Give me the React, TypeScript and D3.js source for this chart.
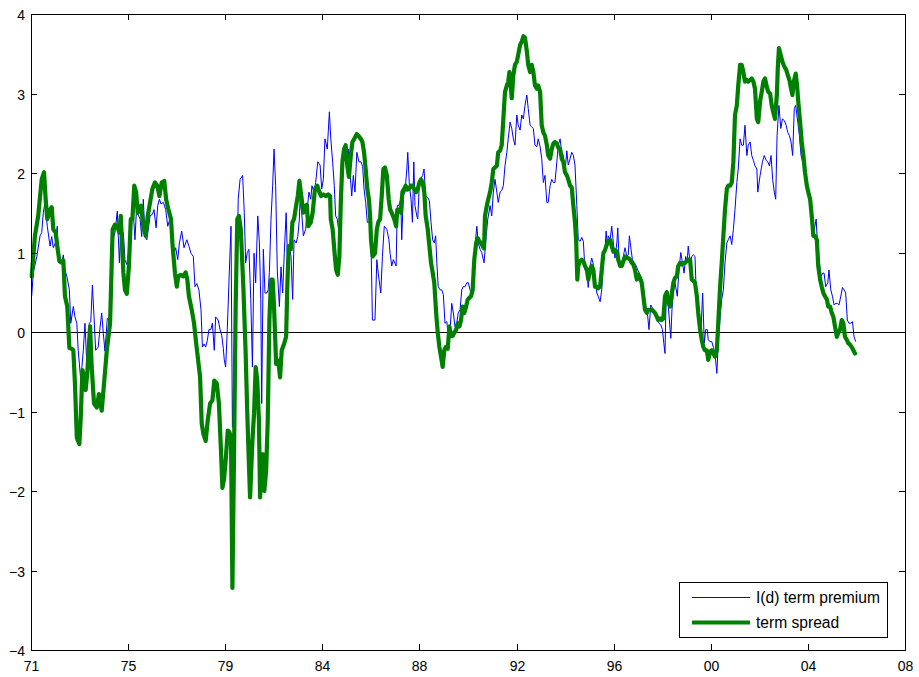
import React from 'react';
import * as d3 from 'd3';

type Pt = [number, number];

const xTickLabels = ['71', '75', '79', '84', '88', '92', '96', '00', '04', '08'];
const yTickValues = [-4, -3, -2, -1, 0, 1, 2, 3, 4];
const xDomain: [number, number] = [1971.6, 2009.18];
const yDomain: [number, number] = [-4, 4];
const legendLabels = ['I(d) term premium', 'term spread'];

// I(d) term premium (date in decimal years, value)
const termPremium: Pt[] = [
[1971.63,0.45],[1971.70,0.75],[1971.85,0.95],[1971.99,1.21],[1972.06,1.25],[1972.13,1.50],[1972.20,1.63],[1972.30,1.33],[1972.42,1.08],[1972.49,1.20],[1972.56,1.06],[1972.65,1.12],[1972.73,1.33],[1972.77,0.91],[1972.92,0.87],[1972.99,0.97],[1973.06,0.78],[1973.14,0.70],[1973.25,0.53],[1973.31,0.11],[1973.42,0.32],[1973.49,0.19],[1973.57,0.11],[1973.63,-0.23],[1973.74,-0.61],[1973.85,-0.23],[1973.92,0.11],[1974.00,-0.40],[1974.11,0.11],[1974.17,0.13],[1974.24,0.59],[1974.31,0.19],[1974.38,-0.23],[1974.49,-0.19],[1974.57,0.06],[1974.64,0.24],[1974.71,-0.02],[1974.78,-0.24],[1974.88,0.17],[1974.97,0.15],
[1975.07,1.12],[1975.21,1.25],[1975.31,1.52],[1975.40,0.87],[1975.46,1.29],[1975.57,1.25],[1975.64,0.91],[1975.72,0.85],[1975.81,1.04],[1975.90,1.42],[1976.00,1.50],[1976.07,1.16],[1976.15,1.63],[1976.21,1.48],[1976.29,1.42],[1976.36,1.20],[1976.43,1.67],[1976.50,1.20],[1976.58,1.16],[1976.72,1.46],[1976.82,1.48],[1976.89,1.54],[1976.98,1.31],[1977.05,1.59],[1977.12,1.67],[1977.19,1.61],[1977.29,1.63],[1977.39,1.54],[1977.48,1.33],[1977.58,1.43],[1977.65,1.33],[1977.75,0.99],[1977.82,1.06],[1977.91,0.91],[1977.98,1.12],[1978.08,1.27],[1978.18,1.06],[1978.30,1.16],[1978.39,1.08],[1978.48,0.99],[1978.58,0.95],[1978.65,0.57],[1978.73,0.61],[1978.82,0.53],[1978.91,0.28],[1978.97,-0.19],
[1979.04,-0.15],[1979.11,-0.19],[1979.18,-0.11],[1979.25,0.03],[1979.33,0.03],[1979.40,0.11],[1979.48,-0.23],[1979.54,0.19],[1979.65,0.15],[1979.73,0.03],[1979.80,-0.04],[1979.87,-0.21],[1979.91,-0.35],[1979.97,-0.44],[1980.04,0.03],[1980.13,0.78],[1980.20,1.33],[1980.26,-1.20],[1980.37,0.00],[1980.47,0.99],[1980.51,1.67],[1980.59,1.92],[1980.70,1.97],[1980.77,1.50],[1980.83,0.87],[1980.90,1.00],[1980.97,1.04],[1981.05,0.41],[1981.12,-0.44],[1981.19,0.99],[1981.26,0.62],[1981.35,1.46],[1981.42,1.12],[1981.48,0.41],[1981.52,-0.90],[1981.59,1.04],[1981.66,0.49],[1981.74,0.49],[1981.80,0.53],[1981.85,0.75],[1981.92,1.42],[1981.99,1.84],[1982.05,2.30],[1982.12,1.84],[1982.19,0.78],[1982.28,0.32],[1982.35,0.82],[1982.42,0.49],[1982.49,0.99],[1982.57,1.50],[1982.62,1.00],[1982.71,1.08],[1982.78,0.95],[1982.85,0.41],[1982.91,1.16],[1983.00,1.12],[1983.07,1.20],[1983.14,1.42],[1983.17,1.67],[1983.24,1.50],[1983.31,1.21],[1983.41,1.29],[1983.48,1.55],[1983.55,1.76],[1983.63,1.67],[1983.68,1.84],[1983.77,1.76],[1983.84,1.88],[1983.93,2.14],
[1984.03,2.10],[1984.10,1.80],[1984.17,1.92],[1984.24,2.43],[1984.34,2.30],[1984.43,2.77],[1984.49,2.43],[1984.57,2.14],[1984.64,1.84],[1984.70,1.46],[1984.77,1.42],[1984.84,1.25],[1984.89,1.42],[1984.96,2.14],[1985.03,2.18],[1985.10,2.30],[1985.18,2.22],[1985.24,2.30],[1985.32,2.01],[1985.39,1.71],[1985.46,1.97],[1985.53,1.76],[1985.61,2.26],[1985.70,2.14],[1985.79,2.14],[1985.86,2.08],[1985.92,1.80],[1985.99,1.63],[1986.06,1.38],[1986.15,1.38],[1986.21,1.29],[1986.28,0.15],[1986.39,0.15],[1986.47,0.91],[1986.53,0.74],[1986.64,0.49],[1986.71,0.95],[1986.79,1.33],[1986.90,1.29],[1986.99,1.16],[1987.04,0.99],[1987.11,0.83],[1987.18,0.91],[1987.30,0.83],[1987.35,1.59],[1987.42,1.59],[1987.50,1.67],[1987.54,1.16],[1987.61,1.72],[1987.68,1.76],[1987.76,2.05],[1987.80,2.26],[1987.87,1.84],[1987.94,1.67],
[1988.00,1.38],[1988.06,2.14],[1988.11,1.59],[1988.19,1.46],[1988.23,1.42],[1988.30,1.88],[1988.37,1.93],[1988.44,1.97],[1988.50,2.05],[1988.57,1.71],[1988.66,1.69],[1988.73,1.65],[1988.80,1.38],[1988.87,1.16],[1988.94,1.12],[1989.00,1.21],[1989.05,0.87],[1989.11,0.57],[1989.19,0.53],[1989.26,0.53],[1989.33,0.47],[1989.40,0.11],[1989.48,0.13],[1989.54,-0.06],[1989.62,0.02],[1989.69,0.36],[1989.76,0.24],[1989.83,0.07],[1989.91,0.11],[1989.97,0.24],[1990.05,0.28],[1990.12,0.53],[1990.19,0.57],[1990.26,0.57],[1990.34,0.62],[1990.40,0.62],[1990.48,0.53],[1990.55,0.45],[1990.62,0.83],[1990.69,1.08],[1990.77,1.33],[1990.83,1.12],[1990.91,1.04],[1990.98,1.00],[1991.08,0.87],[1991.17,1.20],[1991.24,1.42],[1991.34,1.59],[1991.41,1.46],[1991.48,1.76],[1991.55,1.92],[1991.63,1.76],[1991.69,1.63],[1991.77,1.76],[1991.84,1.78],[1991.91,1.84],[1991.98,2.09],
[1992.06,2.26],[1992.12,2.43],[1992.20,2.64],[1992.27,2.56],[1992.34,2.43],[1992.41,2.35],[1992.49,2.73],[1992.55,2.60],[1992.63,2.54],[1992.70,2.73],[1992.77,2.68],[1992.84,2.85],[1992.92,2.98],[1992.98,2.81],[1993.06,2.60],[1993.13,2.58],[1993.20,2.56],[1993.27,2.35],[1993.35,2.33],[1993.41,2.43],[1993.49,2.33],[1993.56,2.18],[1993.63,1.88],[1993.70,1.97],[1993.78,1.63],[1993.84,1.63],[1993.92,1.84],[1993.99,1.92],[1994.06,1.88],[1994.13,1.88],[1994.21,2.14],[1994.27,2.35],[1994.35,2.43],[1994.42,2.26],[1994.49,2.22],[1994.56,2.01],[1994.64,2.28],[1994.70,2.10],[1994.78,2.18],[1994.85,2.26],[1994.92,2.22],[1994.99,2.10],[1995.07,1.59],[1995.13,1.16],[1995.21,1.14],[1995.28,1.19],[1995.35,1.14],[1995.42,0.78],[1995.50,0.74],[1995.56,0.56],[1995.64,0.83],[1995.71,0.93],[1995.78,0.85],[1995.85,0.64],[1995.93,0.49],[1995.99,0.45],
[1996.07,0.38],[1996.14,0.53],[1996.21,0.87],[1996.28,1.04],[1996.33,1.27],[1996.38,1.08],[1996.42,1.21],[1996.50,1.16],[1996.57,1.33],[1996.64,1.12],[1996.71,0.93],[1996.79,1.12],[1996.83,1.31],[1996.88,0.95],[1996.96,0.83],[1997.03,0.87],[1997.10,1.00],[1997.14,1.06],[1997.22,0.95],[1997.28,0.97],[1997.33,1.21],[1997.40,1.04],[1997.46,0.91],[1997.54,0.87],[1997.62,0.83],[1997.69,0.78],[1997.76,0.74],[1997.83,0.66],[1997.90,0.53],[1997.97,0.41],[1998.05,0.30],[1998.12,0.19],[1998.17,0.03],[1998.25,0.34],[1998.32,0.30],[1998.39,0.28],[1998.46,0.24],[1998.53,0.19],[1998.60,0.11],[1998.68,0.09],[1998.75,0.03],[1998.81,-0.14],[1998.86,-0.27],[1998.91,0.45],[1998.98,0.40],[1999.05,0.15],[1999.11,-0.08],[1999.16,0.28],[1999.22,0.50],[1999.29,0.62],[1999.39,0.45],[1999.46,0.78],[1999.54,1.00],[1999.61,0.87],[1999.68,0.74],[1999.75,0.95],[1999.81,0.87],[1999.86,1.08],[1999.94,0.87],
[2000.01,0.95],[2000.08,0.97],[2000.15,0.95],[2000.20,0.53],[2000.27,0.28],[2000.34,0.19],[2000.41,0.03],[2000.48,0.49],[2000.55,-0.14],[2000.61,0.03],[2000.68,0.03],[2000.72,-0.10],[2000.80,-0.12],[2000.87,-0.12],[2000.94,-0.19],[2001.01,-0.27],[2001.09,-0.52],[2001.15,-0.14],[2001.23,0.19],[2001.30,0.41],[2001.37,0.53],[2001.44,0.87],[2001.52,1.12],[2001.58,1.16],[2001.66,1.21],[2001.73,1.10],[2001.80,1.29],[2001.87,1.54],[2001.95,1.88],[2002.01,2.05],[2002.09,2.43],[2002.16,2.35],[2002.23,2.35],[2002.30,2.60],[2002.38,2.22],[2002.44,2.35],[2002.52,2.39],[2002.59,2.22],[2002.66,2.16],[2002.73,2.09],[2002.81,2.05],[2002.85,1.76],[2002.95,1.97],[2003.05,2.14],[2003.13,2.22],[2003.21,2.16],[2003.28,2.14],[2003.35,2.09],[2003.42,2.22],[2003.49,1.92],[2003.56,1.76],[2003.62,1.67],[2003.68,2.47],[2003.76,2.85],[2003.84,2.56],[2003.91,2.68],[2003.99,2.66],
[2004.07,2.60],[2004.14,2.51],[2004.21,2.47],[2004.28,2.39],[2004.35,2.22],[2004.42,2.81],[2004.48,2.85],[2004.57,2.64],[2004.64,2.47],[2004.71,2.22],[2004.78,2.14],[2004.85,2.05],[2004.93,1.84],[2005.00,1.76],[2005.07,1.71],[2005.14,1.54],[2005.21,1.33],[2005.28,1.29],[2005.36,1.42],[2005.43,1.04],[2005.50,0.87],[2005.57,0.70],[2005.64,0.74],[2005.70,0.74],[2005.77,0.57],[2005.86,0.62],[2005.91,0.78],[2005.99,0.53],[2006.06,0.45],[2006.13,0.34],[2006.20,0.36],[2006.27,0.36],[2006.34,0.34],[2006.42,0.45],[2006.49,0.56],[2006.56,0.53],[2006.63,0.49],[2006.70,0.15],[2006.77,0.11],[2006.85,0.11],[2006.92,0.13],[2006.99,-0.06],[2007.06,-0.12]
];

// term spread (date in decimal years, value)
const termSpread: Pt[] = [
[1971.63,0.70],[1971.77,1.21],[1971.91,1.46],[1972.06,1.92],[1972.16,2.01],[1972.23,1.67],[1972.30,1.42],[1972.42,1.54],[1972.49,1.57],[1972.56,1.29],[1972.66,1.25],[1972.73,1.08],[1972.82,0.89],[1972.92,0.87],[1972.99,0.90],[1973.06,0.45],[1973.16,0.32],[1973.25,-0.20],[1973.35,-0.21],[1973.42,-0.23],[1973.49,-0.65],[1973.57,-1.33],[1973.68,-1.41],[1973.74,-1.07],[1973.81,-0.48],[1973.88,-0.55],[1973.95,-0.73],[1974.02,-0.52],[1974.14,0.07],[1974.21,-0.44],[1974.31,-0.90],[1974.43,-0.95],[1974.52,-0.78],[1974.64,-0.99],[1974.74,-0.65],[1974.86,-0.23],[1975.00,0.11],[1975.11,1.29],[1975.21,1.35],[1975.31,1.33],[1975.40,1.25],[1975.46,1.46],[1975.57,0.75],[1975.64,0.53],[1975.72,0.48],[1975.81,0.83],[1975.89,1.42],[1975.96,1.42],
[1976.04,1.84],[1976.12,1.76],[1976.19,1.50],[1976.26,1.55],[1976.33,1.59],[1976.43,1.33],[1976.53,1.21],[1976.62,1.46],[1976.72,1.63],[1976.82,1.80],[1976.93,1.88],[1977.03,1.84],[1977.12,1.71],[1977.22,1.88],[1977.33,1.90],[1977.41,1.67],[1977.50,1.55],[1977.62,1.42],[1977.68,1.12],[1977.74,0.91],[1977.79,0.74],[1977.87,0.57],[1977.93,0.70],[1978.04,0.72],[1978.15,0.70],[1978.25,0.75],[1978.32,0.66],[1978.39,0.45],[1978.51,0.28],[1978.61,0.11],[1978.70,-0.14],[1978.77,-0.31],[1978.87,-0.57],[1978.94,-1.15],[1979.01,-1.28],[1979.11,-1.37],[1979.20,-1.11],[1979.30,-0.90],[1979.40,-0.86],[1979.48,-0.61],[1979.59,-0.65],[1979.68,-0.90],[1979.77,-1.50],[1979.83,-1.96],[1979.90,-1.85],[1979.97,-1.62],
[1980.06,-1.24],[1980.13,-1.26],[1980.20,-1.33],[1980.26,-3.22],[1980.33,-1.54],[1980.40,0.32],[1980.47,1.42],[1980.54,1.46],[1980.62,1.29],[1980.73,0.57],[1980.83,-0.27],[1980.90,-1.03],[1980.97,-1.66],[1981.02,-2.08],[1981.06,-1.80],[1981.12,-1.37],[1981.19,-1.03],[1981.26,-0.44],[1981.33,-0.61],[1981.40,-1.11],[1981.45,-2.08],[1981.52,-1.54],[1981.59,-1.54],[1981.63,-2.00],[1981.71,-1.75],[1981.78,-1.11],[1981.85,0.15],[1981.92,0.66],[1981.99,0.66],[1982.05,0.32],[1982.14,-0.40],[1982.23,-0.36],[1982.31,-0.57],[1982.38,-0.23],[1982.48,-0.15],[1982.57,-0.06],[1982.62,0.57],[1982.68,1.08],[1982.77,1.04],[1982.84,1.38],[1982.91,1.42],[1983.00,1.59],[1983.07,1.71],[1983.14,1.90],[1983.24,1.67],[1983.31,1.50],[1983.38,1.58],[1983.46,1.60],[1983.52,1.33],[1983.63,1.38],[1983.71,1.50],[1983.81,1.80],[1983.91,1.84],
[1984.00,1.76],[1984.07,1.71],[1984.17,1.73],[1984.29,1.71],[1984.38,1.73],[1984.46,1.71],[1984.49,1.42],[1984.57,1.29],[1984.64,1.04],[1984.72,0.78],[1984.79,0.72],[1984.86,0.95],[1984.92,1.63],[1984.99,2.14],[1985.06,2.30],[1985.13,2.35],[1985.20,2.09],[1985.27,1.95],[1985.35,2.22],[1985.42,2.39],[1985.50,2.43],[1985.61,2.49],[1985.67,2.47],[1985.78,2.43],[1985.85,2.39],[1985.92,2.26],[1985.99,2.05],[1986.06,1.80],[1986.13,1.67],[1986.18,1.46],[1986.22,1.16],[1986.29,0.95],[1986.39,0.99],[1986.47,1.29],[1986.53,1.38],[1986.61,1.42],[1986.68,1.71],[1986.75,2.05],[1986.82,2.07],[1986.90,1.97],[1986.98,1.67],[1987.04,1.54],[1987.11,1.50],[1987.22,1.42],[1987.30,1.33],[1987.35,1.54],[1987.42,1.54],[1987.50,1.50],[1987.57,1.76],[1987.64,1.80],[1987.71,1.84],[1987.78,1.79],[1987.85,1.80],[1987.93,1.84],
[1988.00,1.84],[1988.08,1.80],[1988.16,1.76],[1988.23,1.80],[1988.30,1.88],[1988.37,1.92],[1988.44,1.88],[1988.51,1.76],[1988.57,1.46],[1988.66,1.29],[1988.73,1.08],[1988.80,0.87],[1988.87,0.75],[1988.94,0.62],[1989.02,0.24],[1989.09,-0.01],[1989.16,-0.19],[1989.23,-0.31],[1989.30,-0.44],[1989.37,-0.23],[1989.43,-0.19],[1989.52,-0.21],[1989.59,0.07],[1989.66,-0.05],[1989.73,-0.05],[1989.80,-0.01],[1989.88,0.03],[1989.95,0.11],[1990.02,0.07],[1990.09,0.15],[1990.16,0.32],[1990.23,0.24],[1990.31,0.32],[1990.38,0.41],[1990.45,0.43],[1990.52,0.45],[1990.59,0.53],[1990.66,0.91],[1990.74,1.12],[1990.81,1.18],[1990.88,1.14],[1990.95,1.12],[1991.02,1.08],[1991.08,1.05],[1991.12,1.46],[1991.20,1.59],[1991.26,1.67],[1991.34,1.76],[1991.41,1.88],[1991.48,2.05],[1991.55,2.07],[1991.63,2.09],[1991.69,2.26],[1991.77,2.28],[1991.84,2.35],[1991.91,2.68],[1991.98,3.02],
[1992.06,3.10],[1992.12,3.15],[1992.17,3.27],[1992.23,3.10],[1992.27,2.94],[1992.34,3.23],[1992.41,3.36],[1992.49,3.40],[1992.55,3.49],[1992.63,3.61],[1992.70,3.65],[1992.77,3.72],[1992.84,3.70],[1992.92,3.53],[1992.98,3.36],[1993.06,3.27],[1993.13,3.36],[1993.20,3.27],[1993.27,3.10],[1993.35,3.06],[1993.41,3.10],[1993.49,3.02],[1993.56,2.60],[1993.63,2.51],[1993.70,2.47],[1993.78,2.35],[1993.84,2.22],[1993.92,2.18],[1993.99,2.30],[1994.06,2.37],[1994.13,2.39],[1994.21,2.37],[1994.27,2.32],[1994.35,2.30],[1994.42,2.18],[1994.49,2.14],[1994.56,2.01],[1994.64,1.97],[1994.70,1.92],[1994.78,1.84],[1994.85,1.82],[1994.92,1.59],[1994.99,1.38],[1995.04,1.16],[1995.09,0.66],[1995.13,0.83],[1995.21,0.89],[1995.28,0.91],[1995.35,0.89],[1995.42,0.83],[1995.50,0.79],[1995.56,0.66],[1995.64,0.78],[1995.71,0.83],[1995.78,0.78],[1995.85,0.57],[1995.93,0.57],[1995.99,0.55],
[1996.07,0.57],[1996.14,0.78],[1996.21,0.99],[1996.28,1.03],[1996.36,1.10],[1996.42,1.14],[1996.50,1.16],[1996.57,1.08],[1996.64,1.01],[1996.71,1.03],[1996.79,1.01],[1996.85,0.91],[1996.93,0.83],[1997.00,0.83],[1997.07,0.89],[1997.14,0.95],[1997.22,0.93],[1997.28,0.93],[1997.36,0.91],[1997.43,0.87],[1997.50,0.85],[1997.57,0.78],[1997.65,0.66],[1997.71,0.72],[1997.79,0.68],[1997.86,0.62],[1997.93,0.45],[1998.00,0.28],[1998.08,0.24],[1998.14,0.28],[1998.22,0.28],[1998.29,0.28],[1998.36,0.26],[1998.43,0.24],[1998.51,0.19],[1998.57,0.15],[1998.65,0.17],[1998.72,0.15],[1998.79,0.17],[1998.86,0.45],[1998.94,0.50],[1999.00,0.38],[1999.08,0.32],[1999.15,0.47],[1999.22,0.62],[1999.29,0.68],[1999.37,0.70],[1999.43,0.83],[1999.51,0.87],[1999.58,0.85],[1999.65,0.87],[1999.72,0.87],[1999.80,0.89],[1999.86,0.91],[1999.94,0.91],
[2000.01,0.66],[2000.08,0.64],[2000.15,0.62],[2000.23,0.45],[2000.29,0.24],[2000.37,0.03],[2000.44,-0.10],[2000.51,-0.19],[2000.58,-0.23],[2000.66,-0.23],[2000.72,-0.35],[2000.80,-0.25],[2000.87,-0.23],[2000.94,-0.27],[2001.01,-0.31],[2001.09,-0.23],[2001.15,0.11],[2001.23,0.57],[2001.30,0.87],[2001.37,1.21],[2001.44,1.54],[2001.52,1.80],[2001.58,1.84],[2001.66,1.84],[2001.73,1.88],[2001.80,2.14],[2001.87,2.73],[2001.95,2.85],[2002.01,3.10],[2002.09,3.36],[2002.16,3.36],[2002.23,3.27],[2002.30,3.15],[2002.38,3.17],[2002.44,3.15],[2002.52,3.17],[2002.59,3.19],[2002.66,3.15],[2002.73,3.06],[2002.81,2.68],[2002.87,2.64],[2002.95,2.90],[2003.02,3.02],[2003.09,3.15],[2003.16,3.19],[2003.24,3.08],[2003.30,3.02],[2003.38,3.00],[2003.45,2.85],[2003.52,2.76],[2003.59,2.68],[2003.67,2.98],[2003.71,3.32],[2003.76,3.57],[2003.84,3.48],[2003.91,3.40],[2003.99,3.34],
[2004.07,3.30],[2004.14,3.23],[2004.21,3.17],[2004.28,3.06],[2004.34,2.98],[2004.40,3.15],[2004.48,3.25],[2004.54,3.10],[2004.59,2.90],[2004.67,2.64],[2004.74,2.39],[2004.81,2.22],[2004.88,2.01],[2004.96,1.84],[2005.02,1.76],[2005.10,1.67],[2005.17,1.46],[2005.24,1.21],[2005.31,1.21],[2005.39,1.16],[2005.45,0.83],[2005.53,0.66],[2005.60,0.57],[2005.67,0.49],[2005.74,0.45],[2005.82,0.41],[2005.88,0.32],[2005.96,0.32],[2006.03,0.24],[2006.10,0.19],[2006.17,0.07],[2006.25,-0.06],[2006.31,-0.01],[2006.39,0.03],[2006.46,0.15],[2006.53,0.11],[2006.60,-0.06],[2006.68,-0.10],[2006.74,-0.14],[2006.82,-0.16],[2006.89,-0.19],[2006.96,-0.23],[2007.03,-0.27]
];

const FONT = '"Liberation Sans", Arial, Helvetica, sans-serif';
const BLUE = '#0000ff';
const GREEN = '#008000';

export default function App() {
  const W = 919;
  const H = 677;
  const plot = { left: 31, right: 905, top: 14, bottom: 650 };

  const x = d3.scaleLinear().domain(xDomain).range([plot.left, plot.right]);
  const y = d3.scaleLinear().domain(yDomain).range([plot.bottom, plot.top]);

  const line = d3
    .line<Pt>()
    .x((d) => x(d[0]))
    .y((d) => y(d[1]));

  const nX = xTickLabels.length;
  const xTickVals = xTickLabels.map(
    (_, i) => xDomain[0] + (i * (xDomain[1] - xDomain[0])) / (nX - 1)
  );
  const tickLen = 6;
  const fmtY = (v: number) => (v < 0 ? '\u2212' + Math.abs(v) : String(v));

  const legend = { x: 679.5, y: 582.5, w: 208, h: 55 };

  return (
    <svg
      width={W}
      height={H}
      style={{ position: 'absolute', left: 0, top: 0, background: '#fff' }}
      fontFamily={FONT}
    >
      <rect x={0} y={0} width={W} height={H} fill="#fff" />
      {/* zero line */}
      <line
        x1={plot.left}
        x2={plot.right}
        y1={Math.round(y(0)) + 0.5}
        y2={Math.round(y(0)) + 0.5}
        stroke="#000"
        strokeWidth={1}
      />
      <path d={line(termPremium) || ''} fill="none" stroke={BLUE} strokeWidth={1} strokeLinejoin="round" />
      <path d={line(termSpread) || ''} fill="none" stroke={GREEN} strokeWidth={4.2} strokeLinejoin="round" strokeLinecap="round" />

      {/* frame */}
      <rect
        x={plot.left + 0.5}
        y={plot.top + 0.5}
        width={plot.right - plot.left}
        height={plot.bottom - plot.top}
        fill="none"
        stroke="#000"
        strokeWidth={1}
      />
      {/* x ticks */}
      {xTickVals.map((v, i) => {
        const px = Math.round(x(v)) + 0.5;
        return (
          <g key={'xt' + i}>
            <line x1={px} x2={px} y1={plot.bottom} y2={plot.bottom - tickLen} stroke="#000" />
            <line x1={px} x2={px} y1={plot.top} y2={plot.top + tickLen} stroke="#000" />
            <text x={px} y={671} textAnchor="middle" fontSize={14} fill="#000">
              {xTickLabels[i]}
            </text>
          </g>
        );
      })}
      {/* y ticks */}
      {yTickValues.map((v) => {
        const py = Math.round(y(v)) + 0.5;
        return (
          <g key={'yt' + v}>
            <line x1={plot.left} x2={plot.left + tickLen} y1={py} y2={py} stroke="#000" />
            <line x1={plot.right} x2={plot.right - tickLen} y1={py} y2={py} stroke="#000" />
            <text x={25} y={py + 5} textAnchor="end" fontSize={14} fill="#000">
              {fmtY(v)}
            </text>
          </g>
        );
      })}

      {/* legend */}
      <rect x={legend.x} y={legend.y} width={legend.w} height={legend.h} fill="#fff" stroke="#000" strokeWidth={1} />
      <line x1={692} x2={750} y1={597.5} y2={597.5} stroke={BLUE} strokeWidth={1} />
      <text x={756} y={603} fontSize={15.6} fill="#000">
        {legendLabels[0]}
      </text>
      <line x1={692} x2={750} y1={622.5} y2={622.5} stroke={GREEN} strokeWidth={4.2} />
      <text x={756} y={628} fontSize={15.6} fill="#000">
        {legendLabels[1]}
      </text>
    </svg>
  );
}
